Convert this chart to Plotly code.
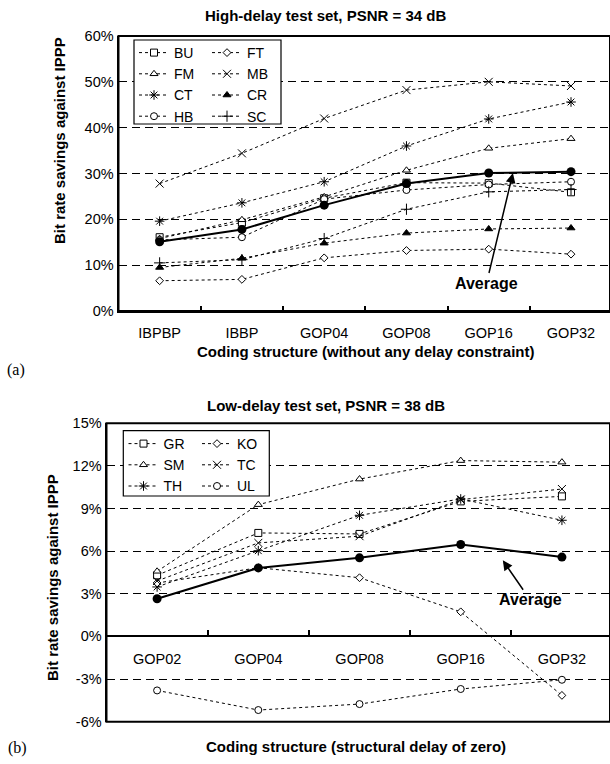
import plotly.graph_objects as go

W, H = 610, 764

# ---------------- data: (a) high-delay test set ----------------
cats_a = ["IBPBP", "IBBP", "GOP04", "GOP08", "GOP16", "GOP32"]
BU = [16.1, 19.3, 24.6, 28.0, 27.9, 25.9]
FT = [6.6, 6.9, 11.6, 13.2, 13.5, 12.4]
FM = [15.8, 19.9, 24.9, 30.7, 35.5, 37.6]
MB = [27.8, 34.4, 42.0, 48.2, 50.0, 49.1]
CT = [19.6, 23.6, 28.2, 36.0, 41.9, 45.6]
CR = [9.5, 11.5, 14.8, 17.0, 17.9, 18.1]
HB = [15.5, 16.1, 24.4, 26.4, 27.6, 28.2]
SC = [10.5, 11.2, 15.8, 22.2, 26.0, 26.5]
AVG_A = [15.1, 17.8, 23.1, 27.8, 30.1, 30.4]

# ---------------- data: (b) low-delay test set ----------------
cats_b = ["GOP02", "GOP04", "GOP08", "GOP16", "GOP32"]
GR = [4.3, 7.28, 7.21, 9.5, 9.85]
KO = [3.76, 4.83, 4.13, 1.73, -4.15]
SM = [4.58, 9.27, 11.07, 12.37, 12.26]
TC = [3.9, 6.58, 7.05, 9.62, 10.37]
TH = [3.48, 6.03, 8.52, 9.67, 8.17]
UL = [-3.8, -5.18, -4.76, -3.7, -3.05]
AVG_B = [2.65, 4.82, 5.53, 6.47, 5.58]

yticks_a = [0, 10, 20, 30, 40, 50, 60]
yticktext_a = ["0%", "10%", "20%", "30%", "40%", "50%", "60%"]
yticks_b = [-6, -3, 0, 3, 6, 9, 12, 15]
yticktext_b = ["-6%", "-3%", "0%", "3%", "6%", "9%", "12%", "15%"]

FONT = "Liberation Sans, Arial, sans-serif"
TICK_SIZE = 14.5

def px_x(p):
    return p / W

def px_y(p):
    return 1 - p / H

fig = go.Figure()

DASH = "3px,3px"

def series(name, x, y, xa, ya, symbol, fill, legend, size=7):
    fig.add_trace(go.Scatter(
        x=x, y=y, name=name, mode="lines+markers",
        xaxis=xa, yaxis=ya, legend=legend,
        line=dict(color="black", width=1, dash=DASH),
        marker=dict(symbol=symbol, size=size, color=fill,
                    line=dict(color="black", width=1)),
        cliponaxis=False,
    ))

# (a) column 1 legend: BU, FM, CT, HB ; column 2: FT, MB, CR, SC
series("BU", cats_a, BU, "x", "y", "square", "white", "legend")
series("FM", cats_a, FM, "x", "y", "triangle-up", "white", "legend")
series("CT", cats_a, CT, "x", "y", "asterisk", "black", "legend", 8)
series("HB", cats_a, HB, "x", "y", "circle", "white", "legend")
series("FT", cats_a, FT, "x", "y", "diamond", "white", "legend2", 6)
series("MB", cats_a, MB, "x", "y", "x-thin", "black", "legend2", 8)
series("CR", cats_a, CR, "x", "y", "triangle-up", "black", "legend2")
series("SC", cats_a, SC, "x", "y", "cross-thin", "black", "legend2", 8)
fig.add_trace(go.Scatter(
    x=cats_a, y=AVG_A, name="Average", mode="lines+markers",
    xaxis="x", yaxis="y", showlegend=False,
    line=dict(color="black", width=2),
    marker=dict(symbol="circle", size=9, color="black"),
))

# (b)
series("GR", cats_b, GR, "x2", "y2", "square", "white", "legend3")
series("SM", cats_b, SM, "x2", "y2", "triangle-up", "white", "legend3")
series("TH", cats_b, TH, "x2", "y2", "asterisk", "black", "legend3", 8)
series("KO", cats_b, KO, "x2", "y2", "diamond", "white", "legend4", 6)
series("TC", cats_b, TC, "x2", "y2", "x-thin", "black", "legend4", 8)
series("UL", cats_b, UL, "x2", "y2", "circle", "white", "legend4")
fig.add_trace(go.Scatter(
    x=cats_b, y=AVG_B, name="Average", mode="lines+markers",
    xaxis="x2", yaxis="y2", showlegend=False,
    line=dict(color="black", width=2),
    marker=dict(symbol="circle", size=9, color="black"),
))

# geometry
ya_dom = [px_y(311), px_y(36)]
yb_dom = [px_y(721.7), px_y(423.2)]
zero_pos_b = yb_dom[0] + (0 - (-6)) / 21 * (yb_dom[1] - yb_dom[0])

axis_common = dict(showgrid=False, zeroline=False, automargin=False,
                   tickfont=dict(family=FONT, size=TICK_SIZE, color="black"))

fig.update_layout(
    width=W, height=H, margin=dict(l=0, r=0, t=0, b=0),
    paper_bgcolor="white", plot_bgcolor="white",
    font=dict(family=FONT, color="black"),
    xaxis=dict(type="category", categoryarray=cats_a, domain=[px_x(118.5), 1],
               anchor="y", range=[-0.5, 5.474], showline=True, linecolor="black",
               linewidth=2, ticks="inside", tickson="boundaries", ticklen=5,
               tickwidth=1.5, tickcolor="black", ticklabelstandoff=8, **axis_common),
    yaxis=dict(domain=ya_dom, anchor="x", range=[0, 60], tickvals=yticks_a,
               ticktext=yticktext_a, showline=True, linecolor="black", linewidth=2,
               ticks="inside", ticklen=4, tickcolor="black",
               showgrid=True, gridcolor="black", gridwidth=1, griddash="8px,5px",
               zeroline=False, automargin=False,
               tickfont=dict(family=FONT, size=TICK_SIZE, color="black")),
    xaxis2=dict(type="category", categoryarray=cats_b, domain=[px_x(106.5), 1],
                anchor="free", position=zero_pos_b, range=[-0.5, 4.475],
                showline=True, linecolor="black", linewidth=2, ticks="inside",
                tickson="boundaries", ticklen=5, tickwidth=1.5, tickcolor="black",
                ticklabelstandoff=9, **axis_common),
    yaxis2=dict(domain=yb_dom, anchor="x2", range=[-6, 15], tickvals=yticks_b,
                ticktext=yticktext_b, showline=True, linecolor="black", linewidth=2,
                ticks="inside", ticklen=4, tickcolor="black",
                showgrid=True, gridcolor="black", gridwidth=1, griddash="8px,5px",
                zeroline=False, automargin=False,
                tickfont=dict(family=FONT, size=TICK_SIZE, color="black")),
)

leg_common = dict(orientation="v", bgcolor="rgba(0,0,0,0)", borderwidth=0,
                  xanchor="left", yanchor="top",
                  font=dict(family=FONT, size=14, color="black"))
fig.update_layout(
    legend=dict(x=px_x(134), y=px_y(37), **leg_common),
    legend2=dict(x=px_x(207), y=px_y(37), **leg_common),
    legend3=dict(x=px_x(123.5), y=px_y(428), **leg_common),
    legend4=dict(x=px_x(197), y=px_y(428), **leg_common),
)

shapes = [
    # plot borders
    dict(type="rect", xref="x domain", yref="y domain", x0=0, x1=1, y0=0, y1=1,
         line=dict(color="black", width=2), layer="above"),
    dict(type="rect", xref="x2 domain", yref="y2 domain", x0=0, x1=1, y0=0, y1=1,
         line=dict(color="black", width=2), layer="above"),
    # legend boxes
    dict(type="rect", xref="paper", yref="paper", x0=px_x(134), x1=px_x(281),
         y0=px_y(124), y1=px_y(40), fillcolor="white",
         line=dict(color="black", width=1.2), layer="above"),
    dict(type="rect", xref="paper", yref="paper", x0=px_x(123.3), x1=px_x(269.3),
         y0=px_y(496), y1=px_y(430.7), fillcolor="white",
         line=dict(color="black", width=1.2), layer="above"),
]
fig.update_layout(shapes=shapes)

def txt(text, x, y, size=15, bold=True, angle=0, family=FONT):
    return dict(text=f"<b>{text}</b>" if bold else text, x=px_x(x), y=px_y(y),
                xref="paper", yref="paper", xanchor="center", yanchor="middle",
                showarrow=False, textangle=angle,
                font=dict(family=family, size=size, color="black"))

annotations = [
    txt("High-delay test set, PSNR = 34 dB", 325.5, 15.5),
    txt("Low-delay test set, PSNR = 38 dB", 326, 405),
    txt("Coding structure (without any delay constraint)", 365.5, 351),
    txt("Coding structure (structural delay of zero)", 356.5, 746.7),
    txt("Bit rate savings against IPPP", 60, 141, angle=-90),
    txt("Bit rate savings against IPPP", 52, 578, angle=-90),
    txt("(a)", 16, 370, size=16, bold=False, family="Liberation Serif, Times New Roman, serif"),
    txt("(b)", 17, 748, size=16, bold=False, family="Liberation Serif, Times New Roman, serif"),
    dict(text="<b>Average</b>", x=4.294, y=30.1, xref="x", yref="y",
         ax=3.974, ay=6.1, axref="x", ayref="y", showarrow=True,
         arrowhead=2, arrowsize=1.3, arrowwidth=1.5, arrowcolor="black", standoff=0,
         font=dict(family=FONT, size=16, color="black")),
    dict(text="<b>Average</b>", x=3.416, y=5.35, xref="x2", yref="y2",
         ax=3.685, ay=2.58, axref="x2", ayref="y2", showarrow=True,
         arrowhead=2, arrowsize=1.3, arrowwidth=1.5, arrowcolor="black", standoff=0,
         font=dict(family=FONT, size=16, color="black")),
]
fig.update_layout(annotations=annotations)

fig.write_html("out.html")
